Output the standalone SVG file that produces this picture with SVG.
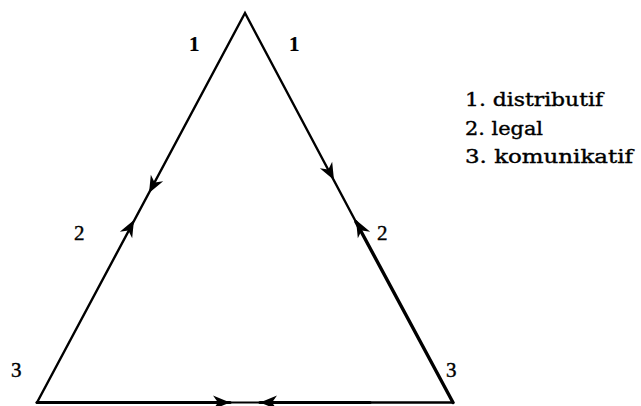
<svg xmlns="http://www.w3.org/2000/svg" width="641" height="406" viewBox="0 0 641 406">
<style>
.ln{stroke:#000;stroke-linecap:round;fill:none}
.lbl{font-family:"Liberation Serif","Times New Roman",serif;font-size:21px;fill:#000;stroke:#000;stroke-width:0.4}
.b{font-weight:bold;stroke-width:0.2}
.lg{font-family:"DejaVu Serif","Liberation Serif",serif;font-size:19px;fill:#000;stroke:#000;stroke-width:0.4}
</style>
<defs>
<path id="ah" d="M0,0 L-17,-7 L-12,0 L-17,7 Z" fill="#000"/>
</defs>
<rect width="641" height="406" fill="#fff"/>
<g id="connectors">
<path class="ln" stroke-width="2.4" d="M37,402.5 L245,13 L356,222"/>
<path class="ln" stroke-width="3.4" d="M356,222 L453,402.5"/>
<path class="ln" stroke-width="3.2" d="M37,402.5 L230,402.5"/>
<path class="ln" stroke-width="2.2" d="M230,402.5 L260,402.5"/>
<path class="ln" stroke-width="3.2" d="M260,402.5 L370,402.5"/>
<path class="ln" stroke-width="2.4" d="M370,402.5 L453,402.5"/>
<use href="#ah" transform="translate(149,193) rotate(118.1)"/>
<use href="#ah" transform="translate(134,220) rotate(-61.9)"/>
<use href="#ah" transform="translate(334,180) rotate(61.9)"/>
<use href="#ah" transform="translate(356,220) rotate(-118.1)"/>
<use href="#ah" transform="translate(230,402.5)"/>
<use href="#ah" transform="translate(260,402.5) rotate(180)"/>
</g>
<g id="labels-1">
<text class="lbl b" x="189" y="51">1</text>
<text class="lbl b" x="289" y="51">1</text>
</g>
<g id="labels-2">
<text class="lbl" x="74" y="240">2</text>
<text class="lbl" x="377" y="240">2</text>
</g>
<g id="labels-3">
<text class="lbl" x="11" y="377">3</text>
<text class="lbl" x="446" y="377">3</text>
</g>
<g id="legend">
<text class="lg" x="465" y="106" textLength="138" lengthAdjust="spacingAndGlyphs">1. distributif</text>
<text class="lg" x="465" y="134.5" textLength="78" lengthAdjust="spacingAndGlyphs">2. legal</text>
<text class="lg" x="465" y="163" textLength="168" lengthAdjust="spacingAndGlyphs">3. komunikatif</text>
</g>
</svg>
